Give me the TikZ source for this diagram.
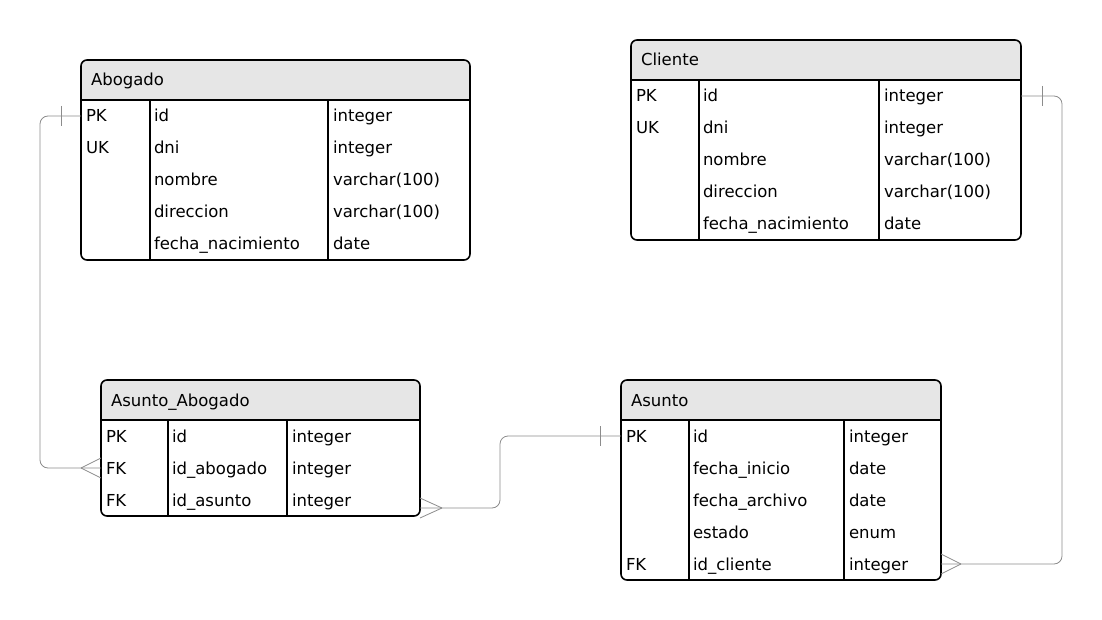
\documentclass[tikz,border=0pt]{standalone}
\usepackage{fontspec}
\setmainfont{DejaVu Sans}
\usetikzlibrary{positioning,calc}
\definecolor{headgray}{HTML}{E6E6E6}
\definecolor{linkgray}{HTML}{8C8C8C}

\tikzset{
  tablebox/.style={rectangle, inner sep=0, outer sep=0, anchor=north west},
  rowbox/.style={rectangle, inner sep=0, outer sep=0, minimum height=32, anchor=north west},
  cell/.style={inner sep=0, outer sep=0, anchor=base west, font=\fontsize{16.5}{19}\selectfont},
  frame/.style={draw=black, line width=1.6pt, rounded corners=6pt},
  sepline/.style={draw=black, line width=1.4pt},
  conn/.style={draw=linkgray, line width=0.8pt},
}

% #1 name, #2 top left, #3 width, #4 rows, #5 first column, #6 second column, #7 title, #8 fields
\newcommand{\ertable}[8]{%
  \node[tablebox, minimum width=#3, minimum height={40+32*#4}] (#1) at (#2) {};
  \begin{scope}
    \clip[rounded corners=6pt] (#1.north west) rectangle (#1.south east);
    \fill[headgray] (#1.north west) rectangle ([yshift=-40]#1.north east);
  \end{scope}
  \node[cell] (#1-title) at ([xshift=10, yshift=-26]#1.north west) {#7};
  \foreach \k/\f/\t [count=\i] in {#8} {
    \node[rowbox, minimum width=#3] (#1-\i) at ([yshift={-40-32*(\i-1)}]#1.north west) {};
    \node[cell] (#1-\i-key) at ([xshift=5, yshift=10]#1-\i.south west) {\k};
    \node[cell] (#1-\i-name) at ([xshift=#5+4, yshift=10]#1-\i.south west) {\f};
    \node[cell] (#1-\i-type) at ([xshift=#6+5, yshift=10]#1-\i.south west) {\t};
  }
  \draw[sepline] ([yshift=-40]#1.north west) -- ([yshift=-40]#1.north east);
  \draw[sepline] ([xshift=#5, yshift=-40]#1.north west) -- ([xshift=#5]#1.south west);
  \draw[sepline] ([xshift=#6, yshift=-40]#1.north west) -- ([xshift=#6]#1.south west);
  \draw[frame] (#1.north west) rectangle (#1.south east);
}

\begin{document}
\begin{tikzpicture}[x=1pt, y=-1pt]
  \useasboundingbox (0,0) rectangle (1102,620);

  %tables
  \ertable{abogado}{81,60}{389}{5}{69}{247}{Abogado}%
    {PK/id/integer, UK/dni/integer, /nombre/varchar(100), /direccion/varchar(100), /fecha\_nacimiento/date}
  \ertable{cliente}{631,40}{390}{5}{68}{248}{Cliente}%
    {PK/id/integer, UK/dni/integer, /nombre/varchar(100), /direccion/varchar(100), /fecha\_nacimiento/date}
  \ertable{asab}{101,380}{319}{3}{67}{186}{Asunto\_Abogado}%
    {PK/id/integer, FK/id\_abogado/integer, FK/id\_asunto/integer}
  \ertable{asunto}{621,380}{320}{5}{68}{223}{Asunto}%
    {PK/id/integer, /fecha\_inicio/date, /fecha\_archivo/date, /estado/enum, FK/id\_cliente/integer}

  %links
  \draw[conn, rounded corners=8pt] (abogado-1.west) -- ++(-41,0) |- (asab-2.west);
  \draw[conn] ([xshift=-20, yshift=10]abogado-1.west) -- ([xshift=-20, yshift=-10]abogado-1.west);
  \draw[conn] ([xshift=-20]asab-2.west) -- ([yshift=10]asab-2.west);
  \draw[conn] ([xshift=-20]asab-2.west) -- ([yshift=-10]asab-2.west);

  \draw[conn, rounded corners=8pt] ([yshift=-8]asab-3.east) -- ++(80,0) |- (asunto-1.west);
  \draw[conn] ([xshift=22, yshift=-8]asab-3.east) -- ([yshift=2]asab-3.east);
  \draw[conn] ([xshift=22, yshift=-8]asab-3.east) -- ([yshift=-18]asab-3.east);
  \draw[conn] ([xshift=-21, yshift=10]asunto-1.west) -- ([xshift=-21, yshift=-10]asunto-1.west);

  \draw[conn, rounded corners=8pt] (cliente-1.east) -- ++(41,0) |- (asunto-5.east);
  \draw[conn] ([xshift=21, yshift=10]cliente-1.east) -- ([xshift=21, yshift=-10]cliente-1.east);
  \draw[conn] ([xshift=20]asunto-5.east) -- ([yshift=10]asunto-5.east);
  \draw[conn] ([xshift=20]asunto-5.east) -- ([yshift=-10]asunto-5.east);
\end{tikzpicture}
\end{document}
